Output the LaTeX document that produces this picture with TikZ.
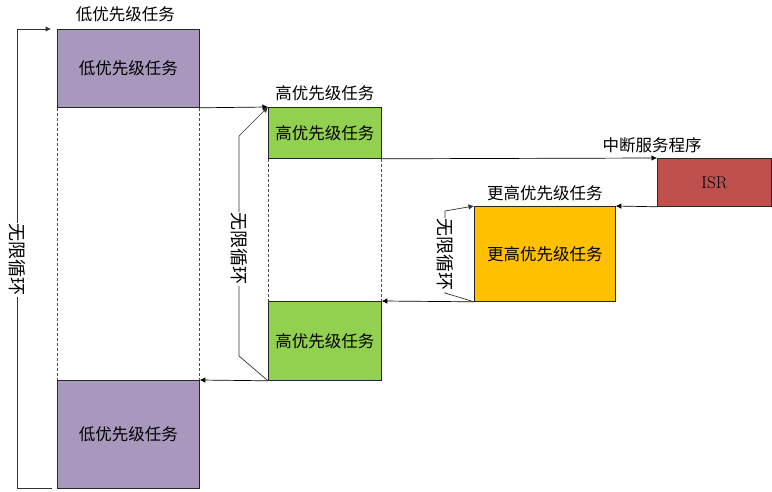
\documentclass[tikz,border=0pt]{standalone}
\usepackage{fontspec}
\usepackage{tikz}
\usetikzlibrary{arrows.meta,positioning}
\newfontfamily\cjk{Noto Sans CJK SC}
\definecolor{lowc}{RGB}{168,152,190}
\definecolor{highc}{RGB}{146,208,80}
\definecolor{topc}{RGB}{255,192,0}
\definecolor{isrc}{RGB}{192,80,77}

\begin{document}
\begin{tikzpicture}[x=1pt, y=-1pt, every node/.style={font=\cjk\fontsize{16.5}{19}\selectfont, inner sep=1pt}, >={Latex[length=5.5pt,width=5.5pt]},
	taskbox/.style={draw=black!85, line width=0.8pt, anchor=north west},
	link/.style={->, line width=0.7pt},
	loopline/.style={line width=0.7pt, black!80},
	gap/.style={dashed, dash pattern=on 3pt off 2pt, line width=0.7pt, black!70},
	looptext/.style={rotate=-90, fill=white, inner sep=1pt, font=\cjk\fontsize{18}{20}\selectfont}]
	\useasboundingbox (0,0) rectangle (772,492);
	\node[taskbox, fill=lowc, minimum width=142, minimum height=78] (low1) at (57,29) {};
	\node at (low1.center) {低优先级任务};
	\node[above=6pt of low1.north, xshift=-3pt] (low1lbl) {低优先级任务};
	\node[taskbox, fill=lowc, minimum width=142, minimum height=108] (low2) at (57,380) {};
	\node at (low2.center) {低优先级任务};
	\node[taskbox, fill=highc, minimum width=113, minimum height=51] (high1) at (268,107) {};
	\node at (high1.center) {高优先级任务};
	\node[above=5pt of high1.north] (high1lbl) {高优先级任务};
	\node[taskbox, fill=highc, minimum width=113, minimum height=79] (high2) at (268,301) {};
	\node at (high2.center) {高优先级任务};
	\node[taskbox, fill=isrc, minimum width=114, minimum height=48] (isr) at (657,158) {};
	\node[font=\rmfamily\fontsize{17}{19}\selectfont] at (isr.center) {ISR};
	\node (isrlbl) at (652,145) {中断服务程序};
	\node[taskbox, fill=topc, minimum width=141, minimum height=95] (top) at (474,206) {};
	\node at (top.center) {更高优先级任务};
	\node[above=4pt of top.north] (toplbl) {更高优先级任务};

	\draw[gap] (low1.south west) -- (low2.north west);
	\draw[gap] (low1.south east) -- (low2.north east);
	\draw[gap] (high1.south west) -- (high2.north west);
	\draw[gap] (high1.south east) -- (high2.north east);

	\draw[link] (low1.south east) -- (high1.north west);
	\draw[link] (high1.south east) -- (isr.north west);
	\draw[link] (isr.south west) -- (top.north east);
	\draw[link] (top.south west) -- (high2.north east);
	\draw[link] (high2.south west) -- (low2.north east);

	\coordinate (lloopA) at (52,488);
	\coordinate (lloopB) at (51,29);
	\draw[loopline, ->] (lloopA) -- (17,488) -- (17,29) -- (lloopB);
	\node[looptext] (lloop) at (17,260) {无限循环};

	\coordinate (mloopA) at (239,356);
	\coordinate (mloopB) at (239,136);
	\draw[loopline, ->] (high2.south west) -- (mloopA) -- (mloopB) -- (high1.north west);
	\node[looptext] (mloop) at (239,249) {无限循环};

	\coordinate (tloopA) at (445,293);
	\coordinate (tloopB) at (445,211);
	\draw[loopline, ->] (top.south west) -- (tloopA) -- (tloopB) -- (top.north west);
	\node[looptext] (tloop) at (445,255) {无限循环};
\end{tikzpicture}
\end{document}
